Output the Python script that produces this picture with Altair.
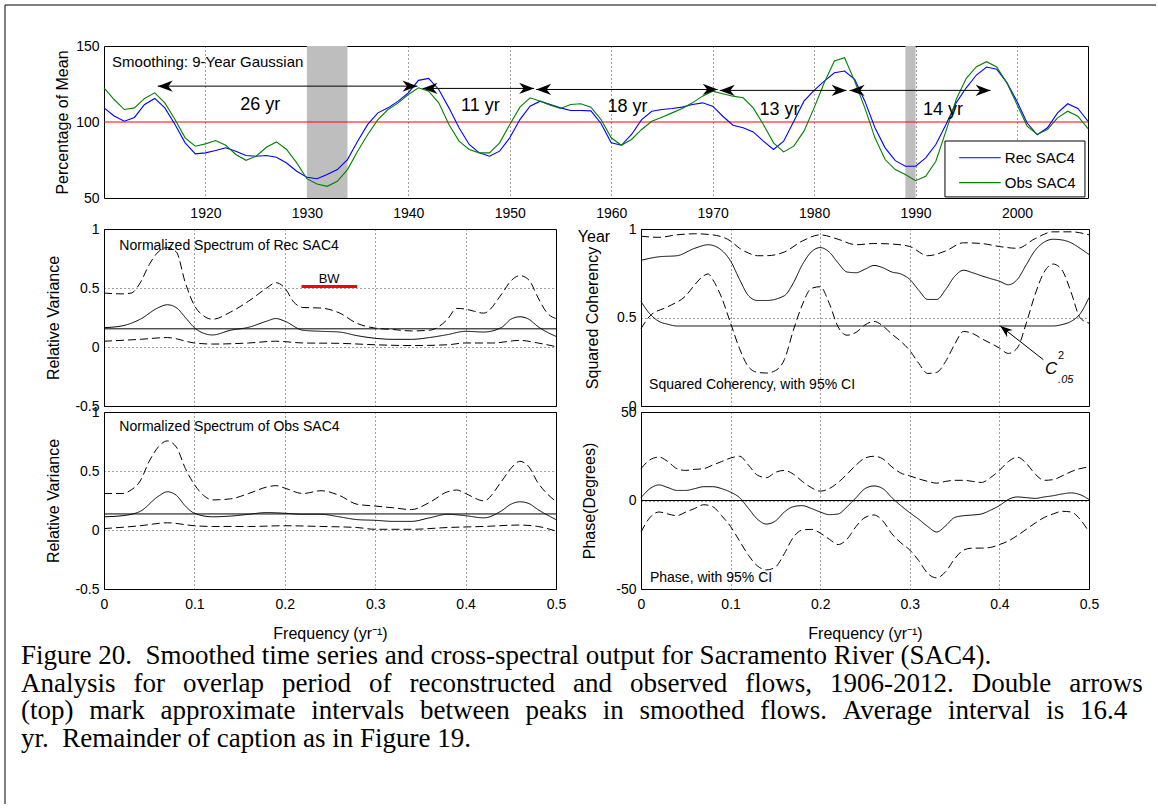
import altair as alt
import pandas as pd

FONT = "Liberation Sans"

# ---------------- top panel: smoothed flows ----------------
years = list(range(1910, 2008))
rec_sac4 = [109.3, 104.0, 100.5, 103.0, 111.5, 115.5, 109.3, 98.4, 86.3, 79.0,
            79.7, 81.2, 83.0, 80.8, 78.0, 77.5, 78.0, 76.8, 73.0, 67.6,
            63.6, 62.7, 65.4, 68.7, 75.3, 87.4, 98.4, 106.0, 109.3, 113.7,
            119.2, 127.4, 128.7, 121.4, 109.3, 96.2, 85.2, 79.7, 77.5, 80.8,
            89.6, 101.6, 110.4, 113.7, 111.5, 109.3, 107.6, 107.6, 107.3, 99.0,
            86.3, 84.7, 91.8, 101.6, 107.1, 108.2, 108.9, 109.8, 111.5, 112.6,
            110.4, 103.8, 97.9, 96.2, 93.5, 87.4, 81.9, 87.4, 100.5, 113.7,
            120.8, 126.9, 132.4, 133.5, 128.0, 113.7, 96.2, 83.0, 74.6, 70.9,
            70.9, 76.4, 85.2, 98.4, 112.6, 122.5, 130.9, 136.2, 134.7, 125.9,
            113.7, 99.3, 91.6, 96.2, 106.0, 112.0, 108.9, 100.5]
obs_sac4 = [122.5, 114.8, 108.2, 109.3, 115.5, 119.2, 112.6, 101.6, 89.6, 84.1,
            85.6, 87.8, 84.7, 78.6, 74.8, 77.5, 83.4, 86.9, 81.9, 73.1,
            62.7, 59.2, 57.7, 61.0, 68.7, 80.8, 91.8, 101.6, 108.2, 112.6,
            118.1, 122.5, 120.3, 112.6, 98.4, 87.4, 81.9, 79.7, 79.7, 86.3,
            98.4, 109.8, 115.9, 113.7, 111.1, 108.9, 111.5, 112.0, 109.8, 101.6,
            89.6, 84.7, 88.5, 95.1, 100.5, 103.2, 106.0, 108.9, 112.6, 117.0,
            120.3, 118.6, 117.0, 115.9, 109.3, 98.4, 86.3, 80.3, 84.1, 94.0,
            109.3, 125.8, 140.1, 142.3, 126.9, 109.3, 89.6, 75.3, 68.7, 65.4,
            61.4, 64.3, 74.2, 94.0, 114.8, 128.7, 136.4, 139.7, 136.2, 125.8,
            111.5, 97.3, 91.8, 95.1, 102.7, 107.1, 103.8, 95.7]
series_names = ["Rec SAC4", "Obs SAC4"]
series_colors = ["#0000ff", "#008000"]
mean_level = [100]
shade_from = [1930, 1989]
shade_to = [1934, 1990]
arrow_from = [1915.3, 1941.4, 1952.6, 1970.7, 1983.5]
arrow_to = [1940.9, 1952.4, 1970.5, 1983.2, 1997.4]
arrow_level = [123.6, 122.1, 121.4, 120.8, 120.8]
interval_label = ["26 yr", "11 yr", "18 yr", "13 yr", "14 yr"]
label_year = [1925.4, 1947.1, 1961.6, 1976.6, 1992.7]
label_level = [111.1, 110.4, 109.8, 108.2, 108.2]
year_ticks = [1920, 1930, 1940, 1950, 1960, 1970, 1980, 1990, 2000]
pct_ticks = [50, 100, 150]
smoothing_note = ["Smoothing: 9-Year Gaussian"]
x_title_top = ["Year"]
# legend box (data coordinates of the top panel)
legend_box = {"x1": [1992.9], "x2": [2006.7], "y1": [87.5], "y2": [50.7]}
legend_line_from = 1994.3
legend_line_to = 1998.4
legend_text_at = 1998.8
legend_rows = [76.5, 60.1]

# ---------------- spectra ----------------
freq_ticks = [0, 0.1, 0.2, 0.3, 0.4, 0.5]

f_rec = [0, .02, .04, .06, .07, .08, .09, .10, .11, .12, .14, .16, .18, .19, .20, .22,
         .24, .26, .28, .30, .32, .34, .36, .38, .40, .42, .44, .45, .46, .47, .48, .50]
rec_spec = [0.164, 0.179, 0.235, 0.333, 0.358, 0.333, 0.25, 0.164, 0.117, 0.102, 0.142,
            0.167, 0.219, 0.241, 0.219, 0.142, 0.133, 0.127, 0.096, 0.074, 0.065, 0.065,
            0.08, 0.105, 0.133, 0.127, 0.167, 0.235, 0.256, 0.235, 0.173, 0.09]
f_rec_hi = [0, .02, .03, .04, .05, .06, .07, .08, .09, .10, .11, .12, .14, .16, .18, .19,
            .20, .21, .22, .24, .26, .28, .30, .32, .34, .36, .38, .39, .40, .41, .42, .44,
            .45, .46, .47, .48, .49, .50]
rec_hi = [0.457, 0.45, 0.457, 0.543, 0.698, 0.806, 0.843, 0.806, 0.543, 0.352, 0.265,
          0.235, 0.296, 0.389, 0.50, 0.545, 0.50, 0.38, 0.335, 0.33, 0.29, 0.20, 0.16,
          0.148, 0.136, 0.142, 0.235, 0.327, 0.321, 0.302, 0.287, 0.45, 0.559, 0.605,
          0.568, 0.42, 0.29, 0.241]
f_rec_lo = [0, .04, .07, .10, .12, .16, .19, .22, .26, .30, .34, .38, .40, .43, .46, .48, .50]
rec_lo = [0.049, 0.065, 0.08, 0.034, 0.025, 0.034, 0.049, 0.034, 0.031, 0.019, 0.012,
          0.019, 0.034, 0.034, 0.056, 0.034, 0.003]
rec_white = [0.154]
bw_from, bw_to, bw_level = [0.2185], [0.28], [0.512]

f_obs = [0, .02, .04, .06, .07, .08, .09, .10, .12, .14, .16, .18, .20, .22, .24, .26,
         .28, .30, .32, .34, .36, .38, .40, .42, .44, .45, .46, .47, .48, .50]
obs_spec = [0.112, 0.121, 0.158, 0.285, 0.324, 0.294, 0.203, 0.142, 0.112, 0.118, 0.133,
            0.148, 0.142, 0.133, 0.133, 0.112, 0.088, 0.082, 0.073, 0.073, 0.103, 0.133,
            0.121, 0.103, 0.164, 0.218, 0.239, 0.224, 0.173, 0.088]
f_obs_hi = [0, .02, .03, .04, .05, .06, .07, .08, .09, .10, .11, .12, .14, .16, .18, .19,
            .20, .22, .24, .26, .28, .30, .32, .34, .36, .38, .39, .40, .42, .44, .45, .46,
            .47, .48, .49, .50]
obs_hi = [0.309, 0.309, 0.339, 0.415, 0.582, 0.703, 0.755, 0.703, 0.521, 0.385, 0.294,
          0.255, 0.264, 0.309, 0.364, 0.376, 0.355, 0.309, 0.333, 0.294, 0.218, 0.203,
          0.188, 0.173, 0.233, 0.324, 0.339, 0.309, 0.248, 0.415, 0.521, 0.582, 0.536,
          0.4, 0.309, 0.242]
f_obs_lo = [0, .04, .07, .10, .12, .16, .20, .24, .28, .30, .34, .38, .42, .46, .48, .50]
obs_lo = [0.012, 0.036, 0.061, 0.036, 0.03, 0.03, 0.036, 0.03, 0.021, 0.006, 0.006,
          0.021, 0.03, 0.042, 0.03, -0.009]
obs_white = [0.136]

f_coh = [0, .02, .04, .06, .075, .09, .10, .11, .12, .13, .14, .16, .17, .18, .19, .20,
         .21, .22, .23, .24, .25, .26, .27, .28, .29, .30, .31, .32, .33, .34, .35, .36,
         .37, .38, .39, .40, .41, .42, .43, .44, .45, .46, .47, .48, .49, .50]
coh = [0.823, 0.843, 0.849, 0.891, 0.911, 0.880, 0.819, 0.715, 0.623, 0.596, 0.596,
       0.623, 0.695, 0.798, 0.870, 0.895, 0.870, 0.808, 0.757, 0.753, 0.773, 0.794,
       0.781, 0.757, 0.746, 0.715, 0.654, 0.602, 0.602, 0.658, 0.732, 0.767, 0.753,
       0.736, 0.720, 0.705, 0.685, 0.715, 0.798, 0.880, 0.926, 0.942, 0.938, 0.922,
       0.891, 0.856]
f_coh_hi = [0, .02, .04, .06, .08, .10, .11, .12, .13, .14, .16, .18, .20, .22, .24, .26,
            .28, .30, .32, .34, .36, .38, .40, .42, .44, .46, .48, .50]
coh_hi = [0.959, 0.953, 0.967, 0.973, 0.967, 0.932, 0.891, 0.864, 0.849, 0.849, 0.870,
          0.932, 0.967, 0.942, 0.911, 0.918, 0.915, 0.901, 0.849, 0.876, 0.922, 0.918,
          0.901, 0.891, 0.946, 0.984, 0.984, 0.967]
f_coh_lo = [0, .01, .03, .05, .06, .07, .075, .08, .09, .10, .11, .12, .13, .14, .15, .16,
            .17, .18, .19, .20, .21, .22, .23, .24, .25, .26, .27, .28, .29, .30, .31, .32,
            .33, .34, .35, .36, .37, .38, .39, .40, .41, .42, .43, .44, .45, .46, .47, .48,
            .49, .50]
coh_lo = [0.437, 0.509, 0.561, 0.623, 0.685, 0.736, 0.746, 0.715, 0.612, 0.468, 0.324,
          0.221, 0.19, 0.186, 0.2, 0.262, 0.427, 0.571, 0.664, 0.674, 0.581, 0.447, 0.4,
          0.416, 0.458, 0.478, 0.452, 0.406, 0.365, 0.313, 0.241, 0.184, 0.19, 0.252,
          0.348, 0.421, 0.41, 0.381, 0.355, 0.328, 0.297, 0.328, 0.468, 0.633, 0.757,
          0.802, 0.767, 0.643, 0.499, 0.468]
f_c05 = [0, .01, .02, .03, .04, .46, .47, .48, .49, .50]
c05 = [0.59, 0.52, 0.478, 0.462, 0.452, 0.452, 0.46, 0.478, 0.52, 0.612]
c05_arrow = {"f1": [0.449], "v1": [0.262], "f2": [0.401], "v2": [0.452]}

f_ph = [round(i * 0.01, 2) for i in range(51)]
phase = [1.6, 6.7, 8.8, 7.3, 5.7, 5.7, 6.7, 7.8, 7.8, 6.7, 4.7, 1.6, -4.5, -10.6, -13.3,
         -11.6, -6.5, -3.5, -2.9, -4.5, -6.5, -8, -7.6, -3.5, 1.6, 6.7, 8.2, 6.7, 1.6, -2.9,
         -6.9, -10.6, -14.7, -17.8, -14.3, -9.6, -8.6, -8.2, -7.6, -5.5, -2.9, 0.6, 2, 1.6,
         1.2, 2, 2.7, 3.7, 4.3, 3.3, 0.6]
phase_hi = [18, 23, 24.5, 22, 18, 17, 17.6, 18, 20, 22, 24, 25, 20, 14.3, 12.9, 15.9, 17,
            14.9, 10.8, 7.3, 5.3, 6.7, 10.2, 14.9, 20, 24, 25, 23.5, 19, 15.5, 13.9, 12.2,
            10.8, 9.8, 10.8, 11.4, 11.4, 10.8, 10.2, 12.9, 17, 22, 24.5, 21, 14.9, 11.4,
            11.8, 13.9, 16.3, 18, 19]
phase_lo = [-17.8, -9.6, -6.5, -7.6, -8.6, -6.5, -4.5, -2.4, -3.5, -8.6, -14.7, -22.9, -31,
            -37, -39.2, -37.6, -30, -20.8, -16.7, -16.3, -18.4, -21.8, -24.9, -21.8, -14.7,
            -9.6, -8.2, -11.6, -18.8, -23.9, -28, -34, -41.2, -43.7, -40.2, -33, -28, -26.9,
            -26.9, -26.5, -24.9, -22.9, -19.8, -16.3, -12.7, -9.6, -7.6, -6.1, -6.5, -10.6,
            -17.8]
phase_zero = [0]

caption_lines = [
    "Figure 20.  Smoothed time series and cross-spectral output for Sacramento River (SAC4).",
    "Analysis for overlap period of reconstructed and observed flows, 1906-2012.  Double arrows",
    "(top) mark approximate intervals between peaks in smoothed flows.  Average interval is 16.4",
    "yr.  Remainder of caption as in Figure 19.",
]
# word gap used to imitate the justified lines of the original caption
caption_gaps = [None, "\u2004\u2005\u200a", "\u2004\u2005", None]

# ---------------- helpers ----------------
SOLID = [1, 0]
DASH = [8, 4]
ARROW_R = "M0,0L-2,-0.75L-1.4,0L-2,0.75Z"
ARROW_L = "M0,0L2,-0.75L1.4,0L2,0.75Z"
LBL = "'' + datum.value"


def df(**cols):
    return pd.DataFrame(cols)


# ---------------- top chart ----------------
xt = alt.Scale(domain=[1910, 2007], nice=False, zero=False)
yt = alt.Scale(domain=[50, 150], nice=False, zero=False)
xa_top = alt.Axis(values=year_ticks, grid=True, title="", labelExpr=LBL, labelFlush=False,
                  labelPadding=8)
ya_top = alt.Axis(values=pct_ticks, grid=False, title="Percentage of Mean", labelExpr=LBL,
                  labelPadding=5, titlePadding=5)


def TX(field=None, datum=None):
    if datum is not None:
        return alt.X(datum=datum, scale=xt, axis=xa_top)
    return alt.X(field, scale=xt, axis=xa_top)


def TY(field=None, datum=None):
    if datum is not None:
        return alt.Y(datum=datum, scale=yt, axis=ya_top)
    return alt.Y(field, scale=yt, axis=ya_top)


n = len(years)
ts = pd.DataFrame({"year": years * 2, "pct": rec_sac4 + obs_sac4,
                   "series": [series_names[0]] * n + [series_names[1]] * n})

shade = alt.Chart(df(a=shade_from, b=shade_to)).mark_rect(color="#bebebe").encode(
    x=TX("a:Q"), x2="b:Q", y=TY(datum=150), y2=alt.Y2(datum=50))

lines = alt.Chart(ts).mark_line(strokeWidth=1.1).encode(
    x=TX("year:Q"), y=TY("pct:Q"),
    color=alt.Color("series:N", scale=alt.Scale(domain=series_names, range=series_colors),
                    legend=None),
    order=alt.Order("series:N", sort="descending"))

red = alt.Chart(df(v=mean_level)).mark_rule(color="#ff0000", strokeWidth=1).encode(
    y=TY("v:Q"))

arrows_df = df(a=arrow_from, b=arrow_to, lev=arrow_level)
arrow_lines = alt.Chart(arrows_df).mark_rule(color="black", strokeWidth=1).encode(
    x=TX("a:Q"), x2="b:Q", y=TY("lev:Q"))
heads_l = alt.Chart(arrows_df).mark_point(shape=ARROW_L, filled=True, size=225, color="black",
                                          opacity=1).encode(x=TX("a:Q"), y=TY("lev:Q"))
heads_r = alt.Chart(arrows_df).mark_point(shape=ARROW_R, filled=True, size=225, color="black",
                                          opacity=1).encode(x=TX("b:Q"), y=TY("lev:Q"))
interval_text = alt.Chart(df(t=interval_label, x=label_year, y=label_level)).mark_text(
    font=FONT, fontSize=18, color="black").encode(x=TX("x:Q"), y=TY("y:Q"), text="t:N")
note = alt.Chart(df(t=smoothing_note)).mark_text(
    font=FONT, fontSize=15, align="left", color="black").encode(
    x=TX(datum=1910.8), y=TY(datum=139.5), text="t:N")
year_title = alt.Chart(df(t=x_title_top)).mark_text(
    font=FONT, fontSize=16, color="black").encode(
    x=TX(datum=1958.3), y=TY(datum=24.5), text="t:N")

leg_rect = alt.Chart(pd.DataFrame(legend_box)).mark_rect(
    fill="white", stroke="black", strokeWidth=1).encode(
    x=TX("x1:Q"), x2="x2:Q", y=TY("y1:Q"), y2="y2:Q")
leg_df = df(lab=series_names, yv=legend_rows, a=[legend_line_from] * 2,
            b=[legend_line_to] * 2, tx=[legend_text_at] * 2)
leg_lines = alt.Chart(leg_df).mark_rule(strokeWidth=1.1).encode(
    x=TX("a:Q"), x2="b:Q", y=TY("yv:Q"),
    color=alt.Color("lab:N", scale=alt.Scale(domain=series_names, range=series_colors),
                    legend=None))
leg_text = alt.Chart(leg_df).mark_text(font=FONT, fontSize=15, align="left",
                                       color="black").encode(
    x=TX("tx:Q"), y=TY("yv:Q"), text="lab:N")

# page frame (decoration; pixel offsets from the top panel's plot origin)
one = df(k=[0])
frame_top = alt.Chart(one).mark_rule(color="black").encode(
    x=alt.value(-99), x2=alt.value(1052), y=alt.value(-41))
frame_left = alt.Chart(one).mark_rule(color="black").encode(
    x=alt.value(-99), y=alt.value(-41), y2=alt.value(758))

top = alt.layer(shade, red, lines, arrow_lines, heads_l, heads_r, interval_text, note,
                year_title, leg_rect, leg_lines, leg_text, frame_top, frame_left
                ).properties(width=984, height=152)

# ---------------- spectral panels ----------------
fx = alt.Scale(domain=[0, 0.5], nice=False, zero=False)
yv = alt.Scale(domain=[-0.5, 1], nice=False, zero=False)
yc = alt.Scale(domain=[0, 1], nice=False, zero=False)
yp = alt.Scale(domain=[-50, 50], nice=False, zero=False)
var_ticks = [-0.5, 0, 0.5, 1]


def xaxis(labels):
    if labels:
        return alt.Axis(values=freq_ticks, grid=True, title="Frequency (yr\u207b\u00b9)",
                        labelExpr=LBL, labelFlush=False, labelPadding=8, titlePadding=14)
    return alt.Axis(values=freq_ticks, grid=True, labels=False, title="")


def yaxis(ticks, title, tpad):
    return alt.Axis(values=ticks, grid=True, title=title, labelExpr=LBL, labelPadding=5,
                    titlePadding=tpad)


class Panel:
    def __init__(self, ys, xa, ya):
        self.ys, self.xa, self.ya = ys, xa, ya

    def X(self, field=None, datum=None):
        if datum is not None:
            return alt.X(datum=datum, scale=fx, axis=self.xa)
        return alt.X(field, scale=fx, axis=self.xa)

    def Y(self, field=None, datum=None):
        if datum is not None:
            return alt.Y(datum=datum, scale=self.ys, axis=self.ya)
        return alt.Y(field, scale=self.ys, axis=self.ya)

    def curve(self, fs, vs, dash):
        return alt.Chart(df(freq=fs, val=vs)).mark_line(
            color="black", strokeWidth=1, interpolate="monotone", strokeDash=dash).encode(
            x=self.X("freq:Q"), y=self.Y("val:Q"))

    def hline(self, vals):
        return alt.Chart(df(v=vals)).mark_rule(color="black", strokeWidth=1).encode(
            y=self.Y("v:Q"))

    def label(self, text, fx_, fy_, size=14, align="left", style="normal"):
        return alt.Chart(df(t=[text])).mark_text(
            font=FONT, fontSize=size, align=align, color="black", fontStyle=style).encode(
            x=self.X(datum=fx_), y=self.Y(datum=fy_), text="t:N")


W_L, W_R, H = 452, 448, 177

p_ul = Panel(yv, xaxis(False), yaxis(var_ticks, "Relative Variance", 13))
bw = alt.Chart(df(a=bw_from, b=bw_to, v=bw_level)).mark_rule(color="#ff0000",
                                                               strokeWidth=3).encode(
    x=p_ul.X("a:Q"), x2="b:Q", y=p_ul.Y("v:Q"))
ul = alt.layer(
    p_ul.curve(f_rec, rec_spec, SOLID), p_ul.curve(f_rec_hi, rec_hi, DASH),
    p_ul.curve(f_rec_lo, rec_lo, DASH), p_ul.hline(rec_white), bw,
    p_ul.label("BW", 0.249, 0.575, size=13, align="center"),
    p_ul.label("Normalized Spectrum of Rec SAC4", 0.017, 0.86),
).properties(width=W_L, height=H)


def fill_line(text, gap):
    if gap:
        return text.replace("  ", " ").replace(" ", gap)
    return text.replace("  ", "\u00a0 ")


caption_text = "\n".join(fill_line(t, g) for t, g in zip(caption_lines, caption_gaps))
p_ll = Panel(yv, xaxis(True), yaxis(var_ticks, "Relative Variance", 13))
caption = alt.Chart(df(t=[caption_text])).mark_text(
    font="Liberation Serif", fontSize=27, lineHeight=27.7, lineBreak="\n", align="left",
    baseline="top", color="black").encode(x=alt.value(-83), y=alt.value(231), text="t:N")
ll = alt.layer(
    p_ll.curve(f_obs, obs_spec, SOLID), p_ll.curve(f_obs_hi, obs_hi, DASH),
    p_ll.curve(f_obs_lo, obs_lo, DASH), p_ll.hline(obs_white),
    p_ll.label("Normalized Spectrum of Obs SAC4", 0.017, 0.87),
    caption,
).properties(width=W_L, height=H)

p_ur = Panel(yc, xaxis(False), yaxis([0, 0.5, 1], "Squared Coherency", 16))
c05_seg = alt.Chart(pd.DataFrame(c05_arrow)).mark_rule(color="black").encode(
    x=p_ur.X("f1:Q"), x2="f2:Q", y=p_ur.Y("v1:Q"), y2="v2:Q")
c05_head = alt.Chart(pd.DataFrame(c05_arrow)).mark_point(
    shape=ARROW_R, filled=True, size=150, color="black", opacity=1, angle=218).encode(
    x=p_ur.X("f2:Q"), y=p_ur.Y("v2:Q"))
ur = alt.layer(
    p_ur.curve(f_coh, coh, SOLID), p_ur.curve(f_coh_hi, coh_hi, DASH),
    p_ur.curve(f_coh_lo, coh_lo, DASH), p_ur.curve(f_c05, c05, SOLID),
    c05_seg, c05_head,
    p_ur.label("C", 0.451, 0.21, size=17, style="italic"),
    p_ur.label("2", 0.4655, 0.285, size=11),
    p_ur.label(".05", 0.4655, 0.145, size=11, style="italic"),
    p_ur.label("Squared Coherency, with 95% CI", 0.009, 0.12),
).properties(width=W_R, height=H)

p_lr = Panel(yp, xaxis(True), yaxis([-50, 0, 50], "Phase(Degrees)", 18))
lr = alt.layer(
    p_lr.curve(f_ph, phase, SOLID), p_lr.curve(f_ph, phase_hi, DASH),
    p_lr.curve(f_ph, phase_lo, DASH), p_lr.hline(phase_zero),
    p_lr.label("Phase, with 95% CI", 0.01, -44),
).properties(width=W_R, height=H)

grid = alt.concat(ul, ur, ll, lr, columns=2, spacing={"row": 6, "column": 85},
                  bounds="flush")

chart = alt.vconcat(top, grid, spacing=31, bounds="flush").properties(
    padding={"left": 4, "top": 4, "right": 0, "bottom": 2}, background="white"
).configure_view(stroke="black", strokeWidth=1).configure_axis(
    labelFont=FONT, titleFont=FONT, labelFontSize=14, titleFontSize=16,
    titleFontWeight="normal", labelColor="black", titleColor="black", domain=False,
    ticks=False, gridColor="black", gridDash=[1, 3], gridOpacity=0.75, gridWidth=1)

chart.save("out.html", embed_options={"renderer": "svg", "actions": False})
